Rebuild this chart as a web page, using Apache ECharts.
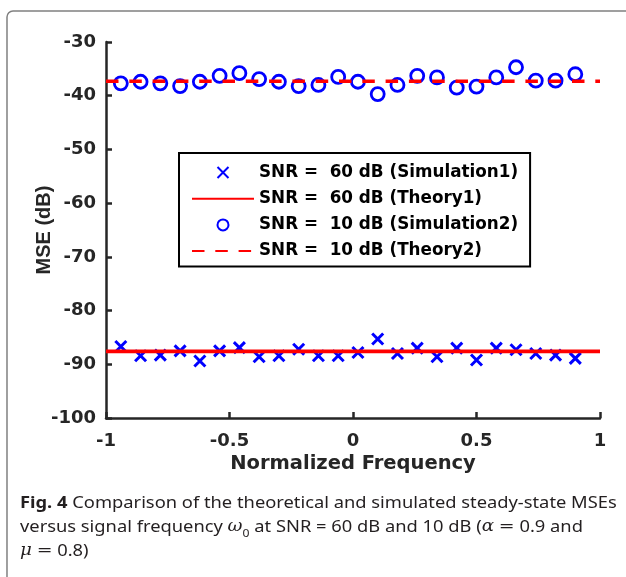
<!DOCTYPE html>
<html><head><meta charset="utf-8">
<script src="https://cdn.jsdelivr.net/npm/echarts@6/dist/echarts.min.js"></script>
<style>html,body{margin:0;padding:0;background:#fff}#c{width:626px;height:577px}</style>
</head><body><div id="c"></div>
<script>
// Normalized frequency of each simulated point
const freq = [-0.94,-0.86,-0.78,-0.70,-0.62,-0.54,-0.46,-0.38,-0.30,-0.22,-0.14,-0.06,
              0.02,0.10,0.18,0.26,0.34,0.42,0.50,0.58,0.66,0.74,0.82,0.90];
// SNR = 60 dB simulated MSE (dB)
const sim1 = [-86.7,-88.4,-88.3,-87.5,-89.4,-87.5,-86.9,-88.6,-88.4,-87.2,-88.4,-88.4,
              -87.8,-85.3,-88.0,-87.0,-88.6,-87.0,-89.2,-87.0,-87.3,-88.0,-88.3,-88.9];
// SNR = 10 dB simulated MSE (dB)
const sim2 = [-37.7,-37.4,-37.7,-38.2,-37.4,-36.3,-35.8,-36.9,-37.4,-38.2,-38.0,-36.5,
              -37.4,-39.7,-38.0,-36.3,-36.6,-38.5,-38.3,-36.6,-34.7,-37.2,-37.2,-36.0];
// Theoretical curves (constant over frequency)
const theoryX = [-1, 1];
const theory1 = [-87.6, -87.6];
const theory2 = [-37.3, -37.3];
// Axis ranges
const xRange = [-1, 1, 0.5];
const yRange = [-100, -30, 10];
const names = ['SNR =  60 dB (Simulation1)','SNR =  60 dB (Theory1)','SNR =  10 dB (Simulation2)','SNR =  10 dB (Theory2)'];

const zip = (xs, ys) => xs.map((x, i) => [x, ys[i]]);
const axisColor = '#262626';
const tickFont = {fontSize:18, fontWeight:'bold', fontFamily:'DejaVu Sans', color:axisColor};

const chart = echarts.init(document.getElementById('c'), null, {renderer:'canvas'});
chart.setOption({
  animation:false,
  backgroundColor:'#fff',
  grid:{left:106, right:26, top:42, bottom:159, containLabel:false},
  xAxis:{
    type:'value', min:xRange[0], max:xRange[1], interval:xRange[2],
    name:'Normalized Frequency', nameLocation:'middle', nameGap:36, nameMoveOverlap:false,
    nameTextStyle:{fontSize:19.5, fontWeight:'bold', fontFamily:'DejaVu Sans', color:axisColor},
    axisLine:{onZero:false, lineStyle:{color:axisColor, width:2.5}},
    axisTick:{inside:true, length:6, lineStyle:{color:axisColor, width:2.5}},
    axisLabel:Object.assign({margin:14}, tickFont),
    splitLine:{show:false}
  },
  yAxis:{
    type:'value', min:yRange[0], max:yRange[1], interval:yRange[2],
    name:'MSE (dB)', nameLocation:'middle', nameGap:52, nameMoveOverlap:false,
    nameTextStyle:{fontSize:20, fontWeight:'bold', fontFamily:'Liberation Sans', color:axisColor},
    axisLine:{onZero:false, lineStyle:{color:axisColor, width:2.5}},
    axisTick:{inside:true, length:6, lineStyle:{color:axisColor, width:2.5}},
    axisLabel:Object.assign({margin:10}, tickFont),
    splitLine:{show:false}
  },
  legend:{
    orient:'vertical', left:179, top:153,
    padding:[11,12,7,12],
    borderColor:'#000', borderWidth:2, backgroundColor:'#fff',
    itemWidth:62, itemHeight:11, itemGap:9.2,
    textStyle:{fontSize:16.8, fontWeight:'bold', fontFamily:'DejaVu Sans', color:'#000'},
    data:[
      {name:names[0]},
      {name:names[1], itemStyle:{opacity:0}},
      {name:names[2]},
      {name:names[3], itemStyle:{opacity:0}}
    ]
  },
  series:[
    {name:names[0], type:'scatter', data:zip(freq, sim1),
     symbol:'path://M0,0L10,10M0,10L10,0', symbolSize:11,
     itemStyle:{color:'rgba(0,0,0,0)', borderColor:'#0000ff', borderWidth:3, opacity:1},
     emphasis:{disabled:true}},
    {name:names[1], type:'line', data:zip(theoryX, theory1), symbol:'none',
     lineStyle:{color:'#ff0000', width:3.6}, itemStyle:{color:'#ff0000'}, emphasis:{disabled:true}},
    {name:names[2], type:'scatter', data:zip(freq, sim2),
     symbol:'circle', symbolSize:13,
     itemStyle:{color:'rgba(0,0,0,0)', borderColor:'#0000ff', borderWidth:2.8, opacity:1},
     emphasis:{disabled:true}},
    {name:names[3], type:'line', data:zip(theoryX, theory2), symbol:'none',
     lineStyle:{color:'#ff0000', width:3.6, type:[12.5,10.8]}, itemStyle:{color:'#ff0000'}, emphasis:{disabled:true}}
  ],
  graphic:[
    {type:'rect', z:-10, silent:true, shape:{x:7, y:11, width:700, height:700, r:6},
     style:{fill:'none', stroke:'#808080', lineWidth:1.5}},
    {type:'text', x:20, y:491, scaleX:1.11, silent:true,
     style:{
       text:'{b|Fig. 4} Comparison of the theoretical and simulated steady-state MSEs\nversus signal frequency {m|ω}{s|0} at SNR = 60 dB and 10 dB ({m|α} {e|=} 0.9 and\n{m|μ} {e|=} 0.8)',
       fontSize:16.5, fontFamily:'Noto Sans', fill:'#231f20', lineHeight:24,
       rich:{
         b:{fontWeight:'bold', fontSize:16.5, fontFamily:'Noto Sans', fill:'#231f20'},
         m:{fontStyle:'italic', fontSize:16.5, fontFamily:'DejaVu Serif', fill:'#231f20'},
         e:{fontSize:17, fontFamily:'DejaVu Serif', fill:'#231f20'},
         s:{fontSize:11, fontFamily:'Noto Sans', fill:'#231f20', verticalAlign:'bottom', padding:[8,0,0,0]}
       }
     }}
  ]
});
</script></body></html>
